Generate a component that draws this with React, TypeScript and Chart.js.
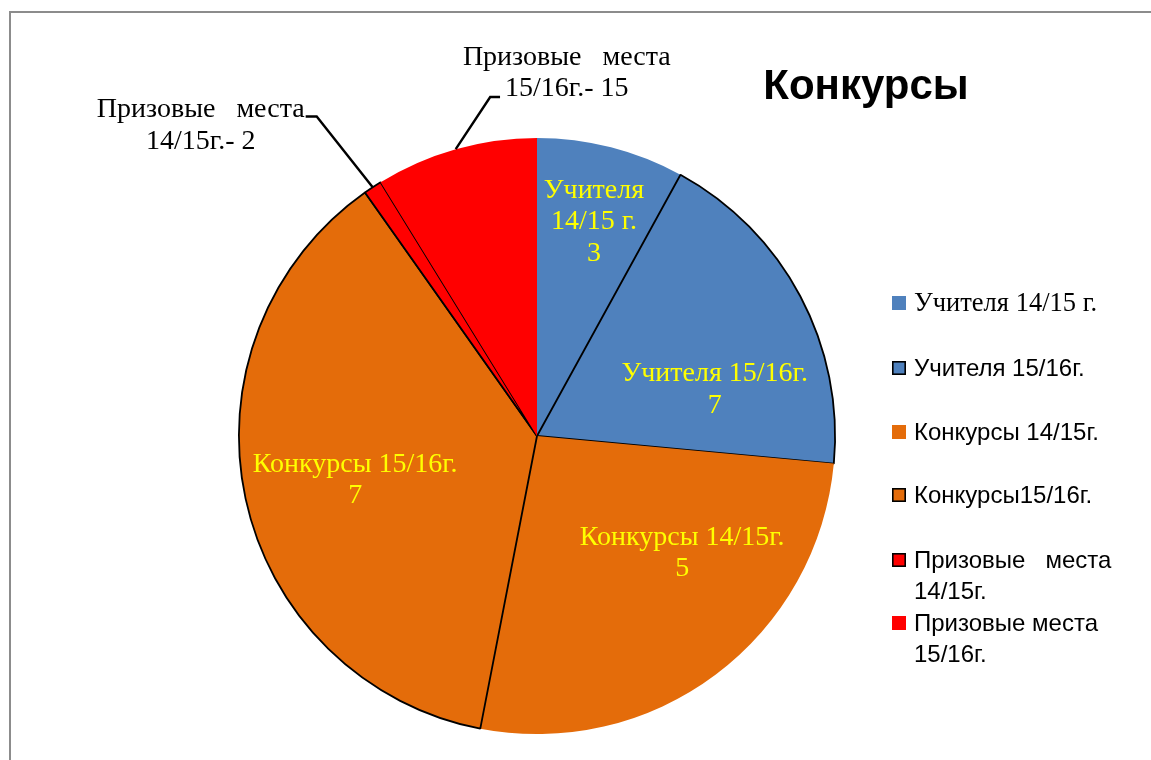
import { useEffect, useRef } from "react";
import { Chart, registerables } from "chart.js";

Chart.register(...registerables);

// ---- data ----
const categories = [
  "Учителя 14/15 г.",
  "Учителя 15/16г.",
  "Конкурсы 14/15г.",
  "Конкурсы15/16г.",
  "Призовые места 14/15г.",
  "Призовые места 15/16г.",
];
// slice shares as drawn in the picture (percent of the pie)
const sliceShare = [8.0, 18.5, 26.6, 37.2, 1.0, 8.8];
// values written in the data labels
const shownValues = [3, 7, 5, 7, 2, 15];
const labelHeads = [
  ["Учителя", "14/15 г."],
  ["Учителя 15/16г."],
  ["Конкурсы 14/15г."],
  ["Конкурсы 15/16г."],
  ["Призовые   места", "14/15г.-"],
  ["Призовые   места", "15/16г.-"],
];
const legendLines = [
  ["Учителя 14/15 г."],
  ["Учителя 15/16г."],
  ["Конкурсы 14/15г."],
  ["Конкурсы15/16г."],
  ["Призовые   места", "14/15г."],
  ["Призовые места", "15/16г."],
];
const titleText = "Конкурсы";

// ---- styles ----
const sliceColors = ["#4F81BD", "#4F81BD", "#E46C0A", "#E46C0A", "#FF0000", "#FF0000"];
const sliceOutlined = [false, true, false, true, true, false];
const labelInside = [true, true, true, true, false, false];
// label anchor (centre x, first baseline) in pie-radius units from the centre
const labelAnchor = [
  [0.191, -0.8],
  [0.596, -0.184],
  [0.487, 0.364],
  [-0.61, 0.12],
  [-1.128, -1.069],
  [0.1, -1.246],
];
// leader knee and end (radius units)
const leaderPts: Record<number, number[][]> = {
  4: [[-0.739, -1.072], [-0.776, -1.072]],
  5: [[-0.157, -1.137], [-0.124, -1.137]],
};
const serif = '"Liberation Serif", "DejaVu Serif", serif';
const sans = '"Liberation Sans", Arial, sans-serif';

const overlayPlugin = {
  id: "overlay",
  beforeDraw(chart: any) {
    const ctx = chart.ctx as CanvasRenderingContext2D;
    ctx.save();
    ctx.fillStyle = "#ffffff";
    ctx.fillRect(0, 0, chart.width, chart.height);
    ctx.strokeStyle = "#8c8c8c";
    ctx.lineWidth = 2;
    ctx.strokeRect(10, 12, chart.width + 40, chart.height + 40);
    ctx.restore();
  },
  afterDraw(chart: any) {
    const ctx = chart.ctx as CanvasRenderingContext2D;
    const meta = chart.getDatasetMeta(0);
    const arcs = meta.data as any[];
    const cx = arcs[0].x;
    const cy = arcs[0].y;
    const r = arcs[0].outerRadius;
    ctx.save();

    // title
    ctx.fillStyle = "#000";
    ctx.font = `bold 42px ${sans}`;
    ctx.textAlign = "center";
    ctx.textBaseline = "alphabetic";
    ctx.fillText(titleText, 866, 99);

    // data labels
    ctx.font = `28px ${serif}`;
    const gap = 31.5;
    arcs.forEach((arc, i) => {
      const ax = cx + labelAnchor[i][0] * r;
      const ay = cy + labelAnchor[i][1] * r;
      const heads = labelHeads[i].slice();
      const lines = labelInside[i]
        ? [...heads, String(shownValues[i])]
        : [heads[0], `${heads[1]} ${shownValues[i]}`];
      ctx.fillStyle = labelInside[i] ? "#FFFF00" : "#000000";
      lines.forEach((t, k) => ctx.fillText(t, ax, ay + k * gap));

      const lp = leaderPts[i];
      if (lp) {
        const mid = (arc.startAngle + arc.endAngle) / 2;
        const ex = cx + Math.cos(mid) * r;
        const ey = cy + Math.sin(mid) * r;
        ctx.strokeStyle = "#000";
        ctx.lineWidth = 2.4;
        ctx.beginPath();
        ctx.moveTo(cx + lp[1][0] * r, cy + lp[1][1] * r);
        ctx.lineTo(cx + lp[0][0] * r, cy + lp[0][1] * r);
        ctx.lineTo(ex, ey);
        ctx.stroke();
      }
    });

    // legend
    const legendY = [303, 368, 432, 495, 560, 623];
    const lineGap = 31;
    legendLines.forEach((lines, i) => {
      const y = legendY[i];
      const mx = 892;
      const s = 14;
      ctx.fillStyle = sliceColors[i];
      ctx.fillRect(mx, y - s / 2, s, s);
      if (sliceOutlined[i]) {
        ctx.strokeStyle = "#000";
        ctx.lineWidth = 1.6;
        ctx.strokeRect(mx + 0.8, y - s / 2 + 0.8, s - 1.6, s - 1.6);
      }
      ctx.fillStyle = "#000";
      ctx.textAlign = "left";
      ctx.textBaseline = "middle";
      ctx.font = i === 0 ? `26.5px ${serif}` : `24px ${sans}`;
      lines.forEach((t, k) => ctx.fillText(t, 914, y + 1 + k * lineGap));
    });
    ctx.restore();
  },
};

export default function App() {
  const ref = useRef<HTMLCanvasElement | null>(null);
  useEffect(() => {
    if (!ref.current) return;
    const chart = new Chart(ref.current, {
      type: "pie",
      data: {
        labels: categories,
        datasets: [
          {
            data: sliceShare,
            backgroundColor: sliceColors,
            borderColor: "#000000",
            borderWidth: sliceOutlined.map((o) => (o ? 1.8 : 0)),
          },
        ],
      },
      options: {
        responsive: false,
        animation: false,
        layout: { padding: { left: 238, right: 315, top: 137, bottom: 25 } },
        plugins: {
          legend: { display: false },
          tooltip: { enabled: false },
          title: { display: false },
        },
      },
      plugins: [overlayPlugin],
    });
    return () => chart.destroy();
  }, []);
  return (
    <div style={{ position: "fixed", left: 0, top: 0, width: 1151, height: 760, background: "#fff" }}>
      <canvas ref={ref} width={1151} height={760} style={{ width: 1151, height: 760 }} />
    </div>
  );
}
